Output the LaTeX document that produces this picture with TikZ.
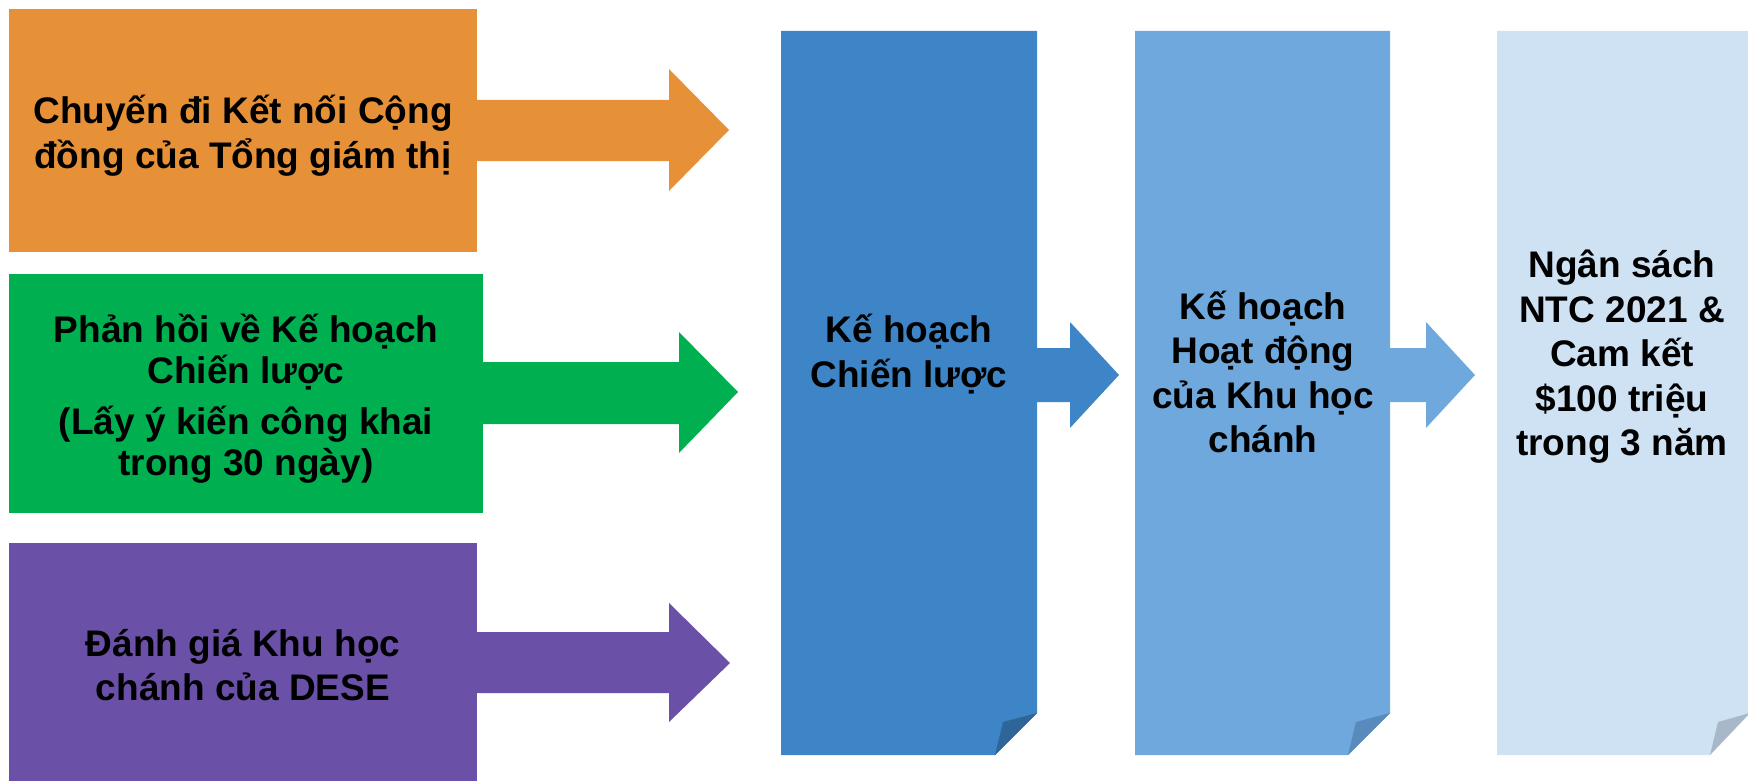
\documentclass[tikz,border=0pt]{standalone}
\usepackage{fontspec}
\setmainfont{Liberation Sans}
\usetikzlibrary{positioning,calc}
\definecolor{OrangeBox}{RGB}{230,145,56}
\definecolor{GreenBox}{RGB}{0,176,80}
\definecolor{PurpleBox}{RGB}{106,80,166}
\definecolor{BlueDoc}{RGB}{61,133,198}
\definecolor{SkyDoc}{RGB}{111,168,220}
\definecolor{PaleDoc}{RGB}{207,226,243}
\definecolor{BlueFold}{RGB}{47,102,153}
\definecolor{SkyFold}{RGB}{88,138,188}
\definecolor{PaleFold}{RGB}{168,184,200}
\tikzset{
  inbox/.style={minimum width=#1,inner sep=0pt,outer sep=0pt,anchor=north west},
  boxtext/.style={inner sep=0pt,font=\fontsize{37}{44.5}\selectfont\bfseries,align=center}
}
\begin{document}
\begin{tikzpicture}[x=1pt,y=-1pt]
\useasboundingbox (0,0) rectangle (1748,781);

% input boxes
\node[inbox=468pt,minimum height=243pt,fill=OrangeBox] (tour) at (9,9) {};
\node[inbox=474pt,minimum height=239pt,fill=GreenBox] (feedback) at (9,274) {};
\node[inbox=468pt,minimum height=238pt,fill=PurpleBox] (review) at (9,543) {};
\node[boxtext] (tourtext) at ($(tour.center)+(0,5)$) {Chuyến đi Kết nối Cộng\\đồng của Tổng giám thị};
\node[boxtext] (feedtext) at ($(feedback.center)+(0,5)$) {Phản hồi về Kế hoạch\\[-3.5pt]Chiến lược\\[6.5pt](Lấy ý kiến công khai\\[-3.5pt]trong 30 ngày)};
\node[boxtext] (reviewtext) at ($(review.center)+(0,3)$) {Đánh giá Khu học\\chánh của DESE};

\coordinate (tourtip) at (729,130);
\coordinate (feedtip) at (738,392);
\coordinate (reviewtip) at (730,663);

\fill[OrangeBox] (tour.east |- 0,100) -- (669,100) -- (669,69) -- (tourtip) -- (669,191) -- (669,161) -- (tour.east |- 0,161) -- cycle;
\fill[GreenBox] (feedback.east |- 0,362) -- (679,362) -- (679,332) -- (feedtip) -- (679,453) -- (679,424) -- (feedback.east |- 0,424) -- cycle;
\fill[PurpleBox] (review.east |- 0,632) -- (669,632) -- (669,603) -- (reviewtip) -- (669,722) -- (669,693) -- (review.east |- 0,693) -- cycle;

% documents with folded corner
\fill[BlueDoc] (781,31) -- (1037,31) -- (1037,713) -- (995,755) -- (781,755) -- cycle;
\fill[BlueFold] (1037,713) -- (1003,722) -- (995,755) -- cycle;
\fill[SkyDoc] (1135,31) -- (1390,31) -- (1390,713) -- (1348,755) -- (1135,755) -- cycle;
\fill[SkyFold] (1390,713) -- (1356,722) -- (1348,755) -- cycle;
\fill[PaleDoc] (1497,31) -- (1750,31) -- (1750,713) -- (1710,755) -- (1497,755) -- cycle;
\fill[PaleFold] (1750,713) -- (1718,722) -- (1710,755) -- cycle;

\node[boxtext] (plan) at (909,354) {Kế hoạch\\Chiến lược};
\node[boxtext] (ops) at (1263,372) {Kế hoạch\\Hoạt động\\của Khu học\\chánh};
\node[boxtext] (budget) at (1622,357) {Ngân sách\\NTC 2021 \&\\Cam kết\\\$100 triệu\\trong 3 năm};

\coordinate (plantip) at (1119,375);
\coordinate (opstip) at (1475,375);
\fill[BlueDoc] (1037,348) -- (1070,348) -- (1070,322) -- (plantip) -- (1070,428) -- (1070,402) -- (1037,402) -- cycle;
\fill[SkyDoc] (1390,348) -- (1426,348) -- (1426,322) -- (opstip) -- (1426,428) -- (1426,402) -- (1390,402) -- cycle;
\end{tikzpicture}
\end{document}
